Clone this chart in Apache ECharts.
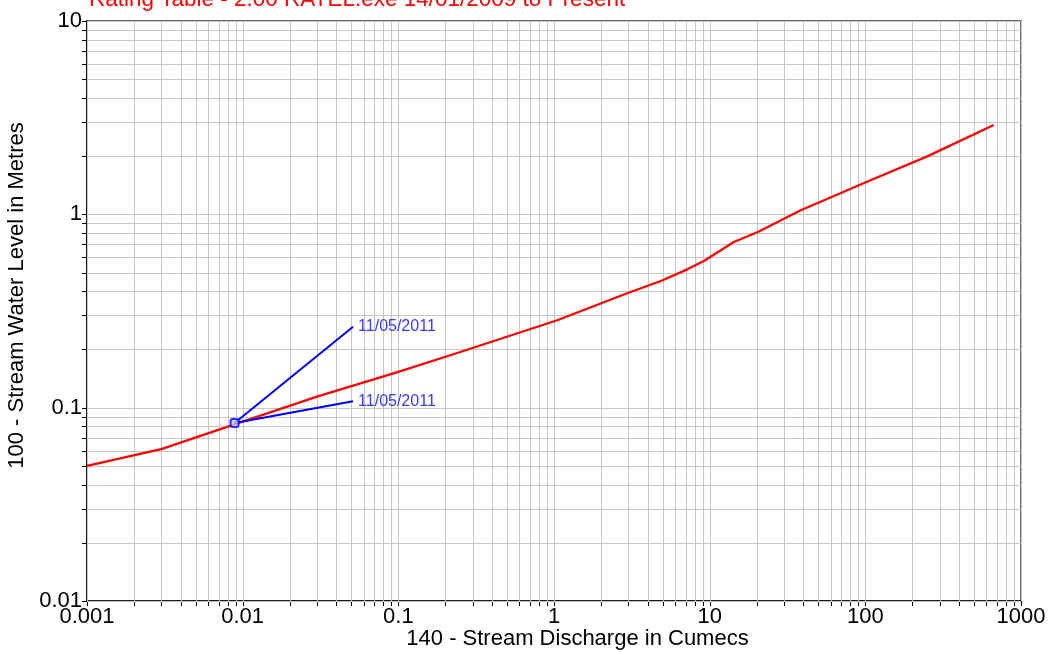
<!DOCTYPE html>
<html>
<head>
<meta charset="utf-8">
<script src="https://cdn.jsdelivr.net/npm/echarts@6/dist/echarts.min.js"></script>
<style>
html,body{margin:0;padding:0;background:#fff;}
#chart{width:1057px;height:652px;}
</style>
</head>
<body>
<div id="chart"></div>
<script>
// ---- data ----
const chartTitle = 'Rating Table - 2.00 RATEL.exe 14/01/2009 to Present';
const xAxisName = '140 - Stream Discharge in Cumecs';
const yAxisName = '100 - Stream Water Level in Metres';

// rating curve: discharge (cumecs) vs level (m)
const dischargeValues = [0.001, 0.003, 0.00887, 0.03, 0.1, 0.25, 1.06, 2.98, 4.86, 7.24, 9.18, 14.3, 20.4, 38.5, 108, 252, 668];
const levelValues     = [0.050, 0.061, 0.0820, 0.114, 0.153, 0.194, 0.284, 0.392, 0.452, 0.521, 0.573, 0.719, 0.810, 1.05, 1.50, 2.00, 2.90];

// gauging marker and its two annotations
const gaugingPoint = [0.00887, 0.0834];
const annotationEnds = [[0.0512, 0.262], [0.0512, 0.108]];
const annotationLabels = ['11/05/2011', '11/05/2011'];

// axes
const xTickLabels = ['0.001', '0.01', '0.1', '1', '10', '100', '1000'];
const yTickLabels = ['0.01', '0.1', '1', '10'];
const gridMultipliers = [1, 2, 3, 4, 5, 6, 7, 8, 9];

const xMin = 0.001, xMax = 1000, yMin = 0.01, yMax = 10;

function decadeLines(min, max) {
  const out = [];
  const e0 = Math.round(Math.log10(min)), e1 = Math.round(Math.log10(max));
  for (let e = e0; e < e1; e++) {
    for (const m of gridMultipliers) out.push(m * Math.pow(10, e));
  }
  out.push(max);
  return out;
}
const xGridValues = decadeLines(xMin, xMax);
const yGridValues = decadeLines(yMin, yMax);

const FONT = 'Liberation Sans, Arial, sans-serif';
const GRID_COLOR = '#c6c6c6';

function xGridRender(params, api) {
  const cs = params.coordSys;
  const p = api.coord([api.value(0), api.value(1)]);
  const x = Math.round(p[0]) + 0.5;
  const bottom = cs.y + cs.height;
  return {
    type: 'group',
    children: [
      { type: 'line', shape: { x1: x, y1: cs.y, x2: x, y2: bottom }, style: { stroke: GRID_COLOR, lineWidth: 1 } },
      { type: 'line', shape: { x1: x, y1: bottom, x2: x, y2: bottom + 5 }, style: { stroke: '#000', lineWidth: 1 } }
    ]
  };
}
function yGridRender(params, api) {
  const cs = params.coordSys;
  const p = api.coord([api.value(0), api.value(1)]);
  const y = Math.round(p[1]) + 0.5;
  return {
    type: 'group',
    children: [
      { type: 'line', shape: { x1: cs.x, y1: y, x2: cs.x + cs.width, y2: y }, style: { stroke: GRID_COLOR, lineWidth: 1 } },
      { type: 'line', shape: { x1: cs.x - 5, y1: y, x2: cs.x, y2: y }, style: { stroke: '#000', lineWidth: 1 } }
    ]
  };
}

const chart = echarts.init(document.getElementById('chart'), null, { renderer: 'canvas' });

const annotationSeries = annotationEnds.map((end, i) => ({
  type: 'line',
  z: 5,
  data: [gaugingPoint, end],
  symbol: 'none',
  lineStyle: { color: '#0000ff', width: 2 },
  endLabel: {
    show: true, distance: 5,
    formatter: annotationLabels[i],
    color: '#3a3aff', fontSize: 16, fontFamily: FONT
  },
  silent: true,
  animation: false
}));

chart.setOption({
  animation: false,
  backgroundColor: '#ffffff',
  title: {
    text: chartTitle,
    left: 89, top: -12, padding: 0,
    textStyle: { color: '#ff0000', fontSize: 22.5, fontWeight: 'normal', fontFamily: FONT }
  },
  grid: {
    left: 87, top: 21, right: 36, bottom: 51,
    containLabel: false, outerBoundsMode: 'none',
    show: true, borderColor: '#6a6a6a', borderWidth: 2, backgroundColor: 'transparent'
  },
  xAxis: {
    type: 'log', logBase: 10, min: xMin, max: xMax,
    name: xAxisName, nameLocation: 'middle', nameGap: 27, nameMoveOverlap: false,
    nameTextStyle: { color: '#000', fontSize: 22, fontFamily: FONT, padding: [0, 0, 0, 47] },
    axisLine: { show: true, lineStyle: { color: '#000', width: 1.5 } },
    axisTick: { show: false },
    splitLine: { show: false },
    axisLabel: {
      show: true, margin: 5, color: '#000', fontSize: 22, fontFamily: FONT,
      showMinLabel: true, showMaxLabel: true, hideOverlap: false,
      formatter: v => xTickLabels[Math.round(Math.log10(v)) - Math.round(Math.log10(xMin))]
    }
  },
  yAxis: {
    type: 'log', logBase: 10, min: yMin, max: yMax,
    name: yAxisName, nameLocation: 'middle', nameGap: 59, nameRotate: 90, nameMoveOverlap: false,
    nameTextStyle: { color: '#000', fontSize: 22, fontFamily: FONT, padding: [0, 0, 0, 31] },
    axisLine: { show: true, lineStyle: { color: '#000', width: 1.5 } },
    axisTick: { show: false },
    splitLine: { show: false },
    axisLabel: {
      show: true, margin: 5, color: '#000', fontSize: 22, fontFamily: FONT,
      showMinLabel: true, showMaxLabel: true, hideOverlap: false,
      formatter: v => yTickLabels[Math.round(Math.log10(v)) - Math.round(Math.log10(yMin))]
    }
  },
  series: [
    {
      type: 'custom', z: 1, silent: true,
      renderItem: xGridRender,
      data: xGridValues.map(v => [v, 1]),
      encode: { x: 0, y: 1 }
    },
    {
      type: 'custom', z: 1, silent: true,
      renderItem: yGridRender,
      data: yGridValues.map(v => [1, v]),
      encode: { x: 0, y: 1 }
    },
    {
      type: 'line', z: 3,
      data: dischargeValues.map((q, i) => [q, levelValues[i]]),
      symbol: 'none',
      lineStyle: { color: '#ff0000', width: 2.3 },
      silent: true
    },
    ...annotationSeries,
    {
      type: 'scatter', z: 6,
      data: [gaugingPoint],
      symbol: 'roundRect', symbolSize: 8,
      itemStyle: { color: '#c8c8ff', borderColor: '#0000ff', borderWidth: 2 },
      silent: true
    }
  ]
});
</script>
</body>
</html>
